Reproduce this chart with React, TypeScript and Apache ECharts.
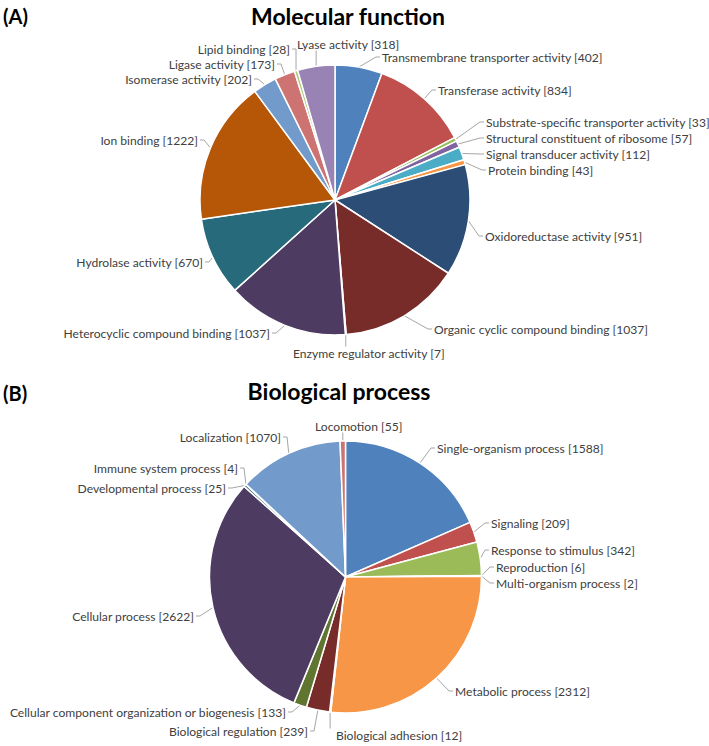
import React, { useEffect, useRef } from "react";
import * as echarts from "echarts";

// ---- Data (clockwise from 12 o'clock) ----
const mfNames = [
  "Transmembrane transporter activity",
  "Transferase activity",
  "Substrate-specific transporter activity",
  "Structural constituent of ribosome",
  "Signal transducer activity",
  "Protein binding",
  "Oxidoreductase activity",
  "Organic cyclic compound binding",
  "Enzyme regulator activity",
  "Heterocyclic compound binding",
  "Hydrolase activity",
  "Ion binding",
  "Isomerase activity",
  "Ligase activity",
  "Lipid binding",
  "Lyase activity",
];
const mfValues = [402, 834, 33, 57, 112, 43, 951, 1037, 7, 1037, 670, 1222, 202, 173, 28, 318];

const bpNames = [
  "Single-organism process",
  "Signaling",
  "Response to stimulus",
  "Reproduction",
  "Multi-organism process",
  "Metabolic process",
  "Biological adhesion",
  "Biological regulation",
  "Cellular component organization or biogenesis",
  "Cellular process",
  "Developmental process",
  "Immune system process",
  "Localization",
  "Locomotion",
];
const bpValues = [1588, 209, 342, 6, 2, 2312, 12, 239, 133, 2622, 25, 4, 1070, 55];

const palette = [
  "#4F81BD", "#C0504D", "#9BBB59", "#8064A2", "#4BACC6", "#F79646",
  "#2C4D75", "#772C2A", "#5F7530", "#4D3B62", "#276A7C", "#B65708",
  "#729ACA", "#CD7371", "#AFC97A", "#9983B5",
];

// ---- Layout (label anchor positions; L: label right of line, R: label left, T: above, B: below) ----
type Pos = [number, number, string];
const mfLabelPos: Pos[] = [
  [382, 57, "L"], [438, 90, "L"], [486, 122, "L"], [486, 138, "L"],
  [486, 154, "L"], [488, 170, "L"], [485, 236, "L"], [434, 329, "L"],
  [293, 353, "B"], [270, 333, "R"], [203, 262, "R"], [198, 140, "R"],
  [252, 79, "R"], [275, 64, "R"], [290, 49, "R"], [297, 44, "T"],
];
const bpLabelPos: Pos[] = [
  [437, 448, "L"], [491, 523, "L"], [491, 550, "L"], [496, 567, "L"],
  [496, 583, "L"], [455, 691, "L"], [336, 735, "B"], [308, 731, "R"],
  [286, 712, "R"], [194, 616, "R"], [226, 488, "R"], [238, 468, "R"],
  [281, 437, "R"], [315, 426, "T"],
];

const FONT = "Lato";
const LABEL_COLOR = "#404040";
const LINE_COLOR = "#A6A6A6";

function makeLayout(values: number[], cx: number, cy: number, r: number, pos: Pos[]) {
  const total = values.reduce((a, b) => a + b, 0);
  const cum: number[] = [];
  let acc = 0;
  values.forEach((v) => {
    cum.push(acc);
    acc += v;
  });
  return (p: any) => {
    const i = p.dataIndex;
    const [x, y, mode] = pos[i];
    const a = ((cum[i] + values[i] / 2) / total) * Math.PI * 2;
    const ex = cx + r * Math.sin(a);
    const ey = cy - r * Math.cos(a);
    const h = 13;
    let pts: number[][];
    if (mode === "L") pts = [[ex, ey], [x - 6, y], [x - 2, y]];
    else if (mode === "R") pts = [[ex, ey], [x + 6, y], [x + 2, y]];
    else if (mode === "T") pts = [[ex, ey], [ex, y + h / 2]];
    else pts = [[ex, ey], [ex, y - h / 2]];
    return {
      x,
      y,
      align: mode === "R" ? "right" : "left",
      verticalAlign: "middle",
      labelLinePoints: pts,
    };
  };
}

function pieSeries(names: string[], values: number[], cx: number, cy: number, r: number, pos: Pos[]) {
  return {
    type: "pie",
    startAngle: 90,
    clockwise: true,
    center: [cx, cy],
    radius: r,
    avoidLabelOverlap: false,
    data: names.map((n, i) => ({
      name: n,
      value: values[i],
      itemStyle: { color: palette[i % palette.length] },
    })),
    itemStyle: { borderColor: "#ffffff", borderWidth: 1.5 },
    label: {
      show: true,
      formatter: "{b} [{c}]",
      fontFamily: FONT,
      fontSize: 12.1,
      lineHeight: 13,
      color: LABEL_COLOR,
      overflow: "none",
      alignTo: "none",
      bleedMargin: 0,
    },
    labelLine: {
      show: true,
      length: 8,
      length2: 8,
      lineStyle: { color: LINE_COLOR, width: 1 },
    },
    labelLayout: makeLayout(values, cx, cy, r, pos),
    emphasis: { disabled: true },
  };
}

export default function App() {
  const ref = useRef<HTMLDivElement>(null);
  useEffect(() => {
    if (!ref.current) return;
    const chart = echarts.init(ref.current, null, { renderer: "svg" });
    chart.setOption({
      animation: false,
      backgroundColor: "#ffffff",
      graphic: [
        { type: "text", x: 3, y: 16, style: { text: "(A)", font: `bold 20px ${FONT}`, fill: "#000", textVerticalAlign: "middle" } },
        { type: "text", x: 348, y: 16, style: { text: "Molecular function", font: `bold 23px ${FONT}`, fill: "#000", textAlign: "center", textVerticalAlign: "middle" } },
        { type: "text", x: 3, y: 393, style: { text: "(B)", font: `bold 20px ${FONT}`, fill: "#000", textVerticalAlign: "middle" } },
        { type: "text", x: 339, y: 391, style: { text: "Biological process", font: `bold 23px ${FONT}`, fill: "#000", textAlign: "center", textVerticalAlign: "middle" } },
      ],
      series: [
        pieSeries(mfNames, mfValues, 335, 200, 135, mfLabelPos),
        pieSeries(bpNames, bpValues, 345.5, 577, 136, bpLabelPos),
      ],
    });
    return () => chart.dispose();
  }, []);
  return <div ref={ref} style={{ position: "absolute", left: 0, top: 0, width: 709, height: 746 }} />;
}
